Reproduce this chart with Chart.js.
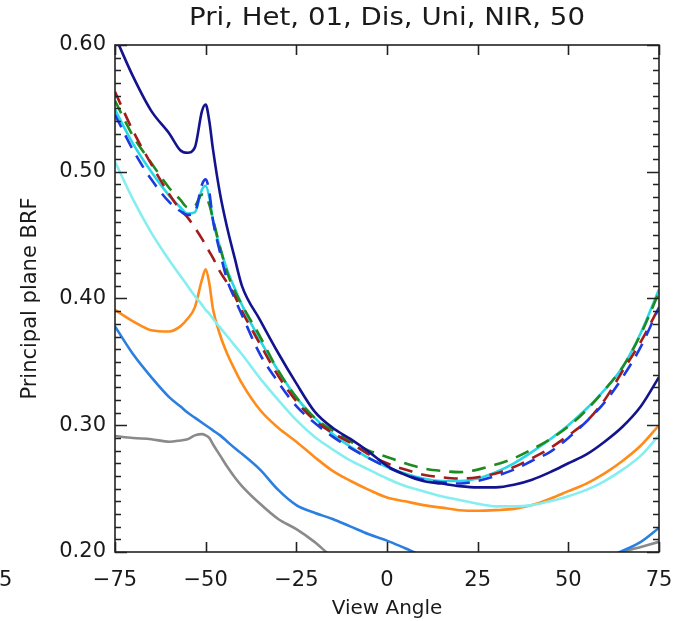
<!DOCTYPE html>
<html><head><meta charset="utf-8">
<script src="https://cdn.jsdelivr.net/npm/chart.js@4.4.1/dist/chart.umd.min.js"></script>
<style>html,body{margin:0;padding:0;background:#fff;}canvas{display:block;}</style>
</head><body>
<canvas id="c" width="689" height="621"></canvas>
<script>
const titleText = "Pri, Het, 01, Dis, Uni, NIR, 50";
const xTitle = "View Angle";
const yTitle = "Principal plane BRF";
const strayLabel = "5";

const angles = [-75,-70,-65,-60,-57,-55,-53,-51,-50,-49,-48,-46,-44,-42,-40,-35,-30,-25,-20,-15,-10,-5,0,5,10,15,20,25,30,35,40,45,50,55,60,65,70,75];

const navySolid = [0.607,0.575,0.548,0.530,0.517,0.515,0.519,0.548,0.553,0.540,0.518,0.482,0.455,0.432,0.410,0.383,0.357,0.333,0.311,0.298,0.289,0.279,0.268,0.261,0.256,0.254,0.252,0.251,0.251,0.253,0.257,0.263,0.270,0.277,0.287,0.299,0.315,0.338];
const blueDashed = [0.545,0.517,0.494,0.476,0.469,0.466,0.468,0.490,0.494,0.484,0.462,0.436,0.414,0.400,0.387,0.356,0.334,0.315,0.302,0.291,0.282,0.274,0.267,0.261,0.257,0.255,0.254,0.256,0.260,0.265,0.272,0.279,0.290,0.303,0.318,0.338,0.362,0.393];
const redDashed = [0.563,0.532,0.506,0.482,0.470,0.464,0.456,0.447,0.442,0.437,0.432,0.421,0.412,0.402,0.390,0.364,0.339,0.319,0.304,0.294,0.286,0.277,0.270,0.265,0.261,0.259,0.258,0.259,0.262,0.267,0.274,0.282,0.292,0.303,0.320,0.343,0.366,0.393];
const greenDashed = [0.556,0.528,0.507,0.487,0.478,0.472,0.473,0.482,0.481,0.474,0.463,0.440,0.420,0.406,0.395,0.370,0.343,0.322,0.306,0.296,0.287,0.280,0.275,0.270,0.266,0.264,0.263,0.265,0.269,0.274,0.281,0.289,0.299,0.312,0.328,0.346,0.372,0.405];
const cyanSolid = [0.549,0.522,0.500,0.481,0.472,0.467,0.468,0.486,0.489,0.480,0.462,0.440,0.422,0.408,0.395,0.367,0.343,0.322,0.306,0.293,0.283,0.274,0.267,0.262,0.258,0.256,0.256,0.258,0.263,0.270,0.279,0.289,0.300,0.313,0.328,0.346,0.373,0.407];
const paleCyanSolid = [0.508,0.478,0.452,0.430,0.418,0.410,0.402,0.395,0.391,0.388,0.384,0.377,0.370,0.363,0.356,0.337,0.320,0.304,0.291,0.281,0.272,0.265,0.258,0.252,0.248,0.244,0.241,0.238,0.236,0.236,0.237,0.240,0.244,0.249,0.256,0.265,0.276,0.292];
const orangeSolid = [0.391,0.382,0.375,0.374,0.378,0.384,0.393,0.415,0.423,0.412,0.392,0.371,0.356,0.344,0.333,0.312,0.298,0.287,0.275,0.264,0.256,0.249,0.243,0.240,0.237,0.235,0.233,0.2325,0.233,0.234,0.237,0.242,0.248,0.254,0.262,0.272,0.284,0.300];
const azureSolid = [0.378,0.356,0.338,0.322,0.315,0.310,0.306,0.302,0.300,0.298,0.296,0.292,0.287,0.282,0.2775,0.265,0.249,0.237,0.231,0.226,0.220,0.214,0.209,0.203,0.197,0.193,0.189,0.186,0.184,0.183,0.183,0.184,0.186,0.190,0.195,0.201,0.208,0.219];
const graySolid = [0.2915,0.290,0.289,0.287,0.288,0.289,0.292,0.293,0.292,0.290,0.285,0.276,0.267,0.259,0.252,0.238,0.226,0.218,0.208,0.196,0.190,0.185,0.180,0.176,0.173,0.171,0.170,0.169,0.169,0.170,0.172,0.175,0.180,0.186,0.194,0.200,0.204,0.208];

const xTicks = [-75,-50,-25,0,25,50,75];
const yTicks = [0.20,0.30,0.40,0.50,0.60];

const FONT = "'DejaVu Sans', sans-serif";

function mk(values, color, dashed, width) {
  return {
    data: angles.map((a, i) => ({x: a, y: values[i]})),
    borderColor: color, backgroundColor: color,
    borderWidth: width || 2.6, borderDash: dashed ? [14, 9] : [],
    pointRadius: 0, fill: false, cubicInterpolationMode: 'monotone', clip: 0
  };
}

const framePlugin = {
  id: 'frame',
  afterDraw(chart) {
    const ctx = chart.ctx, ca = chart.chartArea, xs = chart.scales.x, ys = chart.scales.y;
    ctx.save();
    ctx.strokeStyle = '#222'; ctx.lineWidth = 1.6;
    ctx.strokeRect(ca.left, ca.top, ca.right - ca.left, ca.bottom - ca.top);
    ctx.beginPath();
    xTicks.forEach(v => {
      const p = Math.round(xs.getPixelForValue(v)) + 0.5;
      ctx.moveTo(p, ca.bottom); ctx.lineTo(p, ca.bottom - 10);
      ctx.moveTo(p, ca.top); ctx.lineTo(p, ca.top + 10);
    });
    for (let k = 20; k <= 60; k++) {
      const v = k / 100, p = Math.round(ys.getPixelForValue(v)) + 0.5;
      const len = (k % 10 === 0) ? 12 : 6;
      ctx.moveTo(ca.left, p); ctx.lineTo(ca.left + len, p);
      ctx.moveTo(ca.right, p); ctx.lineTo(ca.right - len, p);
    }
    ctx.stroke();
    ctx.fillStyle = '#1a1a1a';
    ctx.font = "24px " + FONT;
    ctx.textAlign = 'center'; ctx.textBaseline = 'middle';
    ctx.save();
    ctx.translate((ca.left + ca.right) / 2, 19);
    ctx.scale(1.15, 1);
    ctx.fillText(titleText, 0, 0);
    ctx.restore();
    ctx.font = "21px " + FONT;
    ctx.textAlign = 'left';
    ctx.fillText(strayLabel, -1, 581);
    ctx.restore();
  }
};

new Chart(document.getElementById('c'), {
  type: 'line',
  data: {
    datasets: [
      mk(navySolid, '#13138e', false),
      mk(blueDashed, '#1c3ae0', true),
      mk(redDashed, '#a31c1c', true),
      mk(greenDashed, '#1f8a1f', true),
      mk(cyanSolid, '#28d8e6', false),
      mk(paleCyanSolid, '#86eef0', false),
      mk(orangeSolid, '#ff8c1a', false),
      mk(azureSolid, '#2a7fe0', false),
      mk(graySolid, '#8a8a8a', false)
    ]
  },
  plugins: [framePlugin],
  options: {
    responsive: false, animation: false, devicePixelRatio: 1,
    layout: {padding: {left: 0, top: 45, right: 30, bottom: 0}},
    plugins: {legend: {display: false}, title: {display: false}, tooltip: {enabled: false}},
    scales: {
      x: {
        type: 'linear', min: -75, max: 75,
        grid: {display: false, drawTicks: false}, border: {display: false},
        afterBuildTicks: s => { s.ticks = xTicks.map(v => ({value: v})); },
        afterFit: s => { s.height = 69; },
        ticks: {color: '#1a1a1a', font: {family: FONT, size: 21}, padding: 16, maxRotation: 0,
          callback: v => String(v).replace('-', '\u2212')},
        title: {display: true, text: xTitle, color: '#1a1a1a', font: {family: FONT, size: 20}, padding: {top: 0, bottom: 0}}
      },
      y: {
        type: 'linear', min: 0.2, max: 0.6,
        grid: {display: false, drawTicks: false}, border: {display: false},
        afterBuildTicks: s => { s.ticks = yTicks.map(v => ({value: v})); },
        afterFit: s => { s.width = 115; },
        ticks: {color: '#1a1a1a', font: {family: FONT, size: 21}, padding: 9,
          callback: v => Number(v).toFixed(2)},
        title: {display: true, text: yTitle, color: '#1a1a1a', font: {family: FONT, size: 21}, padding: {top: 18, bottom: 0}}
      }
    }
  }
});
</script>
</body></html>
